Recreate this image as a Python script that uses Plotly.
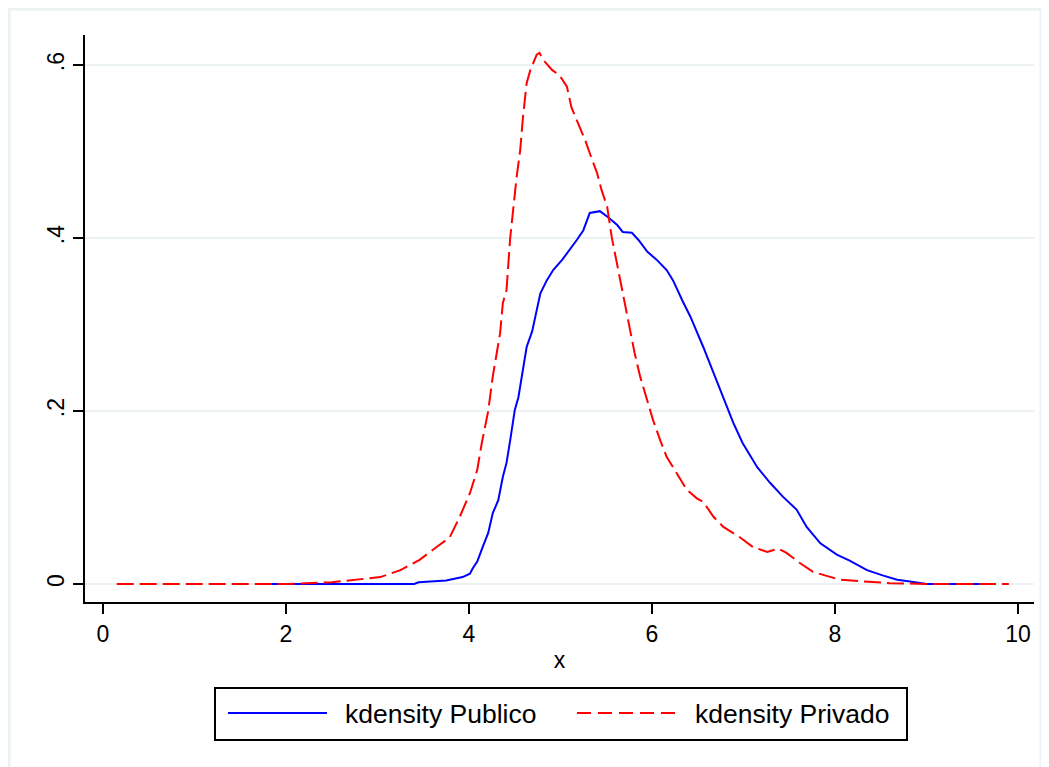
import plotly.graph_objects as go

# ---- data (kernel density estimates) ----
publico_x = [1.7, 2.5, 3.4, 3.45, 3.75, 3.93, 4.01, 4.04, 4.09, 4.15, 4.21, 4.26, 4.32, 4.37,
             4.41, 4.45, 4.50, 4.54, 4.58, 4.63, 4.69, 4.74, 4.78, 4.85, 4.92, 5.02, 5.10,
             5.18, 5.25, 5.32, 5.43, 5.52, 5.62, 5.68, 5.78, 5.85, 5.95, 6.05, 6.16, 6.23,
             6.33, 6.42, 6.56, 6.67, 6.78, 6.89, 6.99, 7.15, 7.29, 7.43, 7.58, 7.69, 7.84,
             8.02, 8.16, 8.35, 8.52, 8.68, 8.82, 9.0, 9.69]
publico_y = [0, 0, 0, 0.002, 0.004, 0.008, 0.012, 0.018, 0.026, 0.043, 0.059, 0.082, 0.097, 0.124,
             0.140, 0.166, 0.201, 0.216, 0.244, 0.274, 0.292, 0.317, 0.336, 0.351, 0.363, 0.375, 0.386,
             0.398, 0.409, 0.429, 0.431, 0.424, 0.415, 0.407, 0.406, 0.398, 0.384, 0.375, 0.363, 0.351,
             0.328, 0.309, 0.274, 0.244, 0.216, 0.186, 0.163, 0.135, 0.117, 0.101, 0.086, 0.066, 0.047,
             0.034, 0.027, 0.016, 0.010, 0.005, 0.003, 0, 0]

privado_x = [0.15, 1.0, 2.0, 2.5, 2.8, 3.03, 3.25, 3.46, 3.65, 3.79, 3.90, 4.01, 4.09, 4.14, 4.21,
             4.26, 4.34, 4.37, 4.41, 4.45, 4.52, 4.56, 4.59, 4.63, 4.67, 4.74, 4.77, 4.81, 4.91,
             4.99, 5.07, 5.12, 5.19, 5.27, 5.32, 5.40, 5.45, 5.51, 5.56, 5.63, 5.70, 5.76, 5.81,
             5.87, 5.95, 6.01, 6.09, 6.16, 6.27, 6.38, 6.49, 6.56, 6.67, 6.78, 6.96, 7.10, 7.26,
             7.38, 7.47, 7.62, 7.76, 7.91, 8.05, 8.31, 8.6, 9.0, 9.9]
privado_y = [0, 0, 0, 0.002, 0.005, 0.008, 0.016, 0.028, 0.043, 0.054, 0.078, 0.105, 0.132, 0.163, 0.200,
             0.240, 0.290, 0.325, 0.340, 0.400, 0.470, 0.502, 0.540, 0.579, 0.594, 0.612, 0.614, 0.606, 0.594,
             0.588, 0.575, 0.551, 0.533, 0.513, 0.498, 0.475, 0.455, 0.436, 0.401, 0.363, 0.325, 0.294, 0.267,
             0.240, 0.213, 0.190, 0.166, 0.147, 0.128, 0.109, 0.099, 0.095, 0.078, 0.066, 0.054, 0.043, 0.037,
             0.041, 0.036, 0.024, 0.014, 0.009, 0.005, 0.003, 0.001, 0, 0]

x_ticks = [0, 2, 4, 6, 8, 10]
x_ticklabels = ["0", "2", "4", "6", "8", "10"]
y_ticks = [0, 0.2, 0.4, 0.6]
y_ticklabels = ["0", ".2", ".4", ".6"]
series_names = ["kdensity Publico", "kdensity Privado"]
x_title = "x"

FONT = "Liberation Sans, Arial, sans-serif"
GRID = "#EAF2F3"

OFF = 8  # page body margin of the html page
W, H = 1049 - OFF, 767 - OFF
# plot area in screen pixels: left 85, right 1034, top 35, bottom 602
ML, MR, MT, MB = 85 - OFF, 15, 35 - OFF, H - (602 - OFF)
PW, PH = W - ML - MR, H - MT - MB


def px_x(p):
    return (p - OFF - ML) / PW


def px_y(p):
    return (H - MB - (p - OFF)) / PH


fig = go.Figure()
fig.add_trace(go.Scatter(x=publico_x, y=publico_y, mode="lines", name=series_names[0],
                         line=dict(color="#0000FF", width=2), showlegend=False))
fig.add_trace(go.Scatter(x=privado_x, y=privado_y, mode="lines", name=series_names[1],
                         line=dict(color="#FF0000", width=2, dash="17px,6px"), showlegend=False))

shapes = []
# outer light frame
shapes.append(dict(type="rect", xref="paper", yref="paper",
                   x0=px_x(9), x1=px_x(1041), y0=px_y(790), y1=px_y(9),
                   line=dict(color=GRID, width=3), fillcolor="rgba(0,0,0,0)", layer="below"))
# legend box
shapes.append(dict(type="rect", xref="paper", yref="paper",
                   x0=px_x(215), x1=px_x(907), y0=px_y(740), y1=px_y(688),
                   line=dict(color="black", width=2), fillcolor="white"))
# legend samples
shapes.append(dict(type="line", xref="paper", yref="paper",
                   x0=px_x(228), x1=px_x(327), y0=px_y(713), y1=px_y(713),
                   line=dict(color="#0000FF", width=2)))
shapes.append(dict(type="line", xref="paper", yref="paper",
                   x0=px_x(577), x1=px_x(680), y0=px_y(713), y1=px_y(713),
                   line=dict(color="#FF0000", width=2, dash="14px,7px")))

annotations = [
    dict(xref="paper", yref="paper", x=px_x(343), y=px_y(714), text=series_names[0],
         showarrow=False, xanchor="left", yanchor="middle",
         font=dict(family=FONT, size=26.5, color="black")),
    dict(xref="paper", yref="paper", x=px_x(693), y=px_y(714), text=series_names[1],
         showarrow=False, xanchor="left", yanchor="middle",
         font=dict(family=FONT, size=26.5, color="black")),
]

fig.update_layout(
    width=W, height=H, autosize=False,
    margin=dict(l=ML, r=MR, t=MT, b=MB, pad=0),
    paper_bgcolor="white", plot_bgcolor="white",
    font=dict(family=FONT, size=23, color="black"),
    shapes=shapes, annotations=annotations,
    showlegend=False,
)

fig.update_xaxes(
    range=[(85 - 103) / 91.5, (1034 - 103) / 91.5],
    tickvals=x_ticks, ticktext=x_ticklabels,
    ticks="outside", ticklen=10, tickwidth=2, tickcolor="black",
    showline=True, linecolor="black", linewidth=2, mirror=False,
    showgrid=False, zeroline=False,
    tickfont=dict(family=FONT, size=23, color="black"),
    title=dict(text=x_title, font=dict(family=FONT, size=23, color="black"), standoff=6),
)
fig.update_yaxes(
    range=[(584 - 602) / 865, (584 - 35) / 865],
    tickvals=y_ticks, ticktext=y_ticklabels, tickangle=-90,
    ticks="outside", ticklen=10, tickwidth=2, tickcolor="black",
    showline=True, linecolor="black", linewidth=2, mirror=False,
    showgrid=True, gridcolor=GRID, gridwidth=2, zeroline=False,
    tickfont=dict(family=FONT, size=23, color="black"),
)

fig.write_html("out.html")
